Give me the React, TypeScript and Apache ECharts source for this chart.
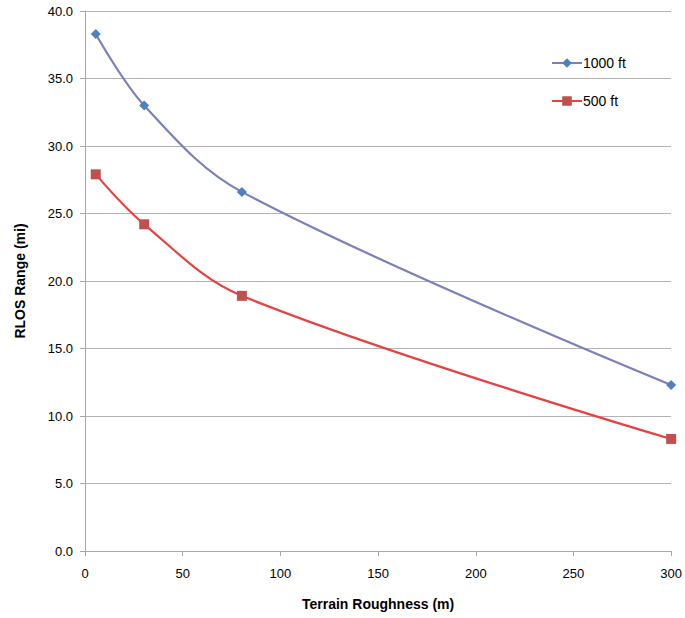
import React, { useEffect, useRef } from "react";
import * as echarts from "echarts";

const roughness = [5.5, 30.3, 80.3, 300];
const range1000 = [38.3, 33.0, 26.6, 12.3];
const range500 = [27.9, 24.2, 18.9, 8.3];
const seriesNames = ["1000 ft", "500 ft"];

export default function App() {
  const ref = useRef<HTMLDivElement>(null);
  useEffect(() => {
    if (!ref.current) return;
    const chart = echarts.init(ref.current, null, { renderer: "svg" });
    const font = "Liberation Sans, Arial, sans-serif";
    chart.setOption({
      animation: false,
      textStyle: { fontFamily: font },
      grid: { left: 85, right: 12, top: 11, bottom: 67 },
      legend: {
        orient: "vertical",
        left: 546,
        top: 51,
        itemGap: 24,
        itemWidth: 30,
        itemHeight: 12,
        textStyle: { fontSize: 14, color: "#000", fontFamily: font, padding: [0, 0, 0, -4] },
        data: seriesNames,
      },
      xAxis: {
        type: "value",
        min: 0,
        max: 300,
        interval: 50,
        name: "Terrain Roughness (m)",
        nameLocation: "middle",
        nameGap: 46,
        nameTextStyle: { fontSize: 14, fontWeight: "bold", color: "#000", fontFamily: font },
        axisLine: { show: true, lineStyle: { color: "#a6a6a6" } },
        axisTick: { show: true, length: 5, lineStyle: { color: "#a6a6a6" } },
        axisLabel: { fontSize: 13, color: "#000", margin: 16, fontFamily: font },
        splitLine: { show: false },
      },
      yAxis: {
        type: "value",
        min: 0,
        max: 40,
        interval: 5,
        name: "RLOS Range (mi)",
        nameLocation: "middle",
        nameGap: 58,
        nameTextStyle: { fontSize: 14, fontWeight: "bold", color: "#000", fontFamily: font },
        axisLine: { show: true, lineStyle: { color: "#a6a6a6" } },
        axisTick: { show: true, length: 5, lineStyle: { color: "#a6a6a6" } },
        axisLabel: {
          fontSize: 13,
          color: "#000",
          margin: 12,
          fontFamily: font,
          formatter: (v: number) => v.toFixed(1),
        },
        splitLine: { show: true, lineStyle: { color: "#b3b3b3", width: 1 } },
      },
      series: [
        {
          name: seriesNames[0],
          type: "line",
          smooth: 0.35,
          data: roughness.map((x, i) => [x, range1000[i]]),
          symbol: "diamond",
          symbolSize: 10,
          lineStyle: { color: "#7b7fbb", width: 2.2 },
          itemStyle: { color: "#4f81bd" },
        },
        {
          name: seriesNames[1],
          type: "line",
          smooth: 0.35,
          data: roughness.map((x, i) => [x, range500[i]]),
          symbol: "rect",
          symbolSize: 10,
          lineStyle: { color: "#e8413f", width: 2.2 },
          itemStyle: { color: "#c0504d" },
        },
      ],
    });
    return () => chart.dispose();
  }, []);
  return <div ref={ref} style={{ width: 685, height: 618, position: "absolute", left: 0, top: 0 }} />;
}
